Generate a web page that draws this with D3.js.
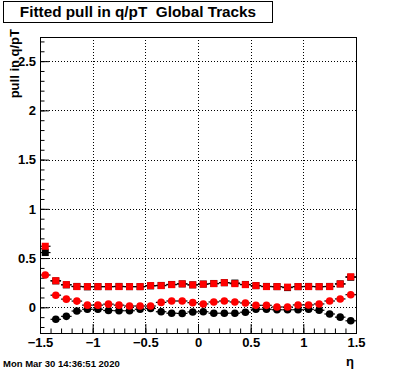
<!DOCTYPE html>
<html>
<head>
<meta charset="utf-8">
<script src="https://cdn.jsdelivr.net/npm/d3@7/dist/d3.min.js"></script>
<style>
  html, body { margin: 0; padding: 0; background: #fff; }
  svg { display: block; }
  text { font-family: "Liberation Sans", Arial, Helvetica, sans-serif; font-weight: bold; fill: #000; white-space: pre; }
</style>
</head>
<body>
<svg id="chart" width="396" height="372"></svg>
<script>
// ---- data ----
const etaCenters = [-1.45,-1.35,-1.25,-1.15,-1.05,-0.95,-0.85,-0.75,-0.65,-0.55,-0.45,-0.35,-0.25,-0.15,-0.05,
                     0.05, 0.15, 0.25, 0.35, 0.45, 0.55, 0.65, 0.75, 0.85, 0.95, 1.05, 1.15, 1.25, 1.35, 1.45];
const binHalfWidth = 0.05;
const blackSquares = [0.556,0.268,0.228,0.212,0.208,0.210,0.210,0.212,0.210,0.210,0.218,0.222,0.232,0.238,0.228,
                      0.236,0.242,0.250,0.246,0.232,0.220,0.212,0.210,0.200,0.210,0.212,0.210,0.212,0.238,0.305];
const redSquares   = [0.620,0.270,0.230,0.210,0.210,0.210,0.210,0.210,0.210,0.210,0.220,0.220,0.230,0.238,0.228,
                      0.235,0.240,0.250,0.240,0.230,0.220,0.210,0.210,0.205,0.210,0.210,0.210,0.210,0.237,0.310];
const redCircles   = [0.328,0.123,0.083,0.063,0.022,0.022,0.032,0.022,0.013,0.013,0.013,0.050,0.064,0.064,0.047,
                      0.034,0.054,0.064,0.054,0.044,0.020,0.020,0.003,0.003,0.024,0.024,0.034,0.064,0.085,0.128];
const blackCircles = [null,-0.122,-0.092,-0.038,-0.020,-0.020,-0.033,-0.035,-0.035,-0.020,-0.012,-0.045,-0.060,-0.062,-0.047,
                      -0.045,-0.060,-0.060,-0.060,-0.050,-0.020,-0.020,-0.025,-0.025,-0.025,-0.020,-0.030,-0.068,-0.100,-0.137];
const xMajorTicks = [-1.5,-1,-0.5,0,0.5,1,1.5];
const yMajorTicks = [0,0.5,1,1.5,2,2.5];
const titleText = "Fitted pull in q/pT  Global Tracks";
const yTitle = "pull in q/pT";
const xTitle = "\u03B7";
const dateText = "Mon Mar 30 14:36:51 2020";

// ---- layout ----
const svg = d3.select("#chart");
const L = 40, R = 356, T = 37, B = 333;
const x = d3.scaleLinear().domain([-1.5, 1.5]).range([L, R]);
const y = d3.scaleLinear().domain([-0.261, 2.745]).range([B, T]);

const xMinor = d3.range(-15, 16).map(d => d / 10);
const yMinor = d3.range(-2, 28).map(d => d / 10);

// grid (dotted)
const grid = svg.append("g").attr("stroke", "#000").attr("stroke-width", 1).attr("stroke-dasharray", "1,2");
grid.selectAll("line.gx").data(xMajorTicks.filter(d => d > -1.5 && d < 1.5)).enter().append("line")
  .attr("x1", d => Math.round(x(d)) + 0.5).attr("x2", d => Math.round(x(d)) + 0.5)
  .attr("y1", T).attr("y2", B);
grid.selectAll("line.gy").data(yMajorTicks).enter().append("line")
  .attr("y1", d => Math.round(y(d)) + 0.5).attr("y2", d => Math.round(y(d)) + 0.5)
  .attr("x1", L).attr("x2", R);

// axes
const fmt = d => d3.format("")(d).replace("-", "\u2212");
const xAxis = d3.axisBottom(x).tickValues(xMajorTicks).tickSize(-9).tickPadding(5).tickFormat(fmt);
const xAxisMinor = d3.axisBottom(x).tickValues(xMinor).tickSize(-4.5).tickFormat("");
const yAxis = d3.axisLeft(y).tickValues(yMajorTicks).tickSize(-9).tickPadding(4).tickFormat(d => d3.format("")(d));
const yAxisMinor = d3.axisLeft(y).tickValues(yMinor).tickSize(-4.5).tickFormat("");

function styleAxis(g) {
  g.select(".domain").remove();
  g.selectAll("line").attr("stroke", "#000");
  g.selectAll("text").attr("font-size", 13).attr("font-family", "Liberation Sans, Arial, sans-serif").attr("font-weight", "bold");
}
svg.append("g").attr("transform", `translate(0,${B})`).call(xAxisMinor).call(styleAxis);
svg.append("g").attr("transform", `translate(0,${B})`).call(xAxis).call(styleAxis);
svg.append("g").attr("transform", `translate(${L},0)`).call(yAxisMinor).call(styleAxis);
svg.append("g").attr("transform", `translate(${L},0)`).call(yAxis).call(styleAxis);

// frame
svg.append("rect").attr("x", L + 0.5).attr("y", T + 0.5).attr("width", R - L).attr("height", B - T)
  .attr("fill", "none").attr("stroke", "#000").attr("stroke-width", 1);

// data
const clip = svg.append("clipPath").attr("id", "plotclip").append("rect")
  .attr("x", L).attr("y", T).attr("width", R - L).attr("height", B - T);
const plot = svg.append("g").attr("clip-path", "url(#plotclip)");

function series(values, shape, color) {
  const pts = etaCenters.map((e, i) => ({ e, v: values[i] })).filter(p => p.v !== null);
  const g = plot.append("g");
  g.selectAll("line").data(pts).enter().append("line")
    .attr("x1", p => x(p.e - binHalfWidth)).attr("x2", p => x(p.e + binHalfWidth))
    .attr("y1", p => y(p.v)).attr("y2", p => y(p.v))
    .attr("stroke", "#000").attr("stroke-width", 1.2);
  if (shape === "square") {
    g.selectAll("rect").data(pts).enter().append("rect")
      .attr("x", p => x(p.e) - 3.5).attr("y", p => y(p.v) - 3.5)
      .attr("width", 7).attr("height", 7).attr("fill", color);
  } else {
    g.selectAll("circle").data(pts).enter().append("circle")
      .attr("cx", p => x(p.e)).attr("cy", p => y(p.v)).attr("r", 3.8).attr("fill", color);
  }
}
series(blackSquares, "square", "#000");
series(redSquares, "square", "#ff0000");
series(blackCircles, "circle", "#000");
series(redCircles, "circle", "#ff0000");

// title box
svg.append("rect").attr("x", 3.5).attr("y", 1.5).attr("width", 269).attr("height", 21)
  .attr("fill", "#fff").attr("stroke", "#000").attr("stroke-width", 1);
svg.append("text").attr("x", 138).attr("y", 17).attr("text-anchor", "middle")
  .attr("xml:space", "preserve").attr("font-size", 15.3).text(titleText);

// axis titles
svg.append("text").attr("transform", "translate(19,29) rotate(-90)").attr("text-anchor", "end")
  .attr("font-size", 13).text(yTitle);
svg.append("text").attr("x", 354).attr("y", 366).attr("text-anchor", "end")
  .attr("font-size", 13).attr("font-weight", "normal").text(xTitle);

// date stamp
svg.append("text").attr("x", 3).attr("y", 367).attr("font-size", 9.5).text(dateText);
</script>
</body>
</html>
